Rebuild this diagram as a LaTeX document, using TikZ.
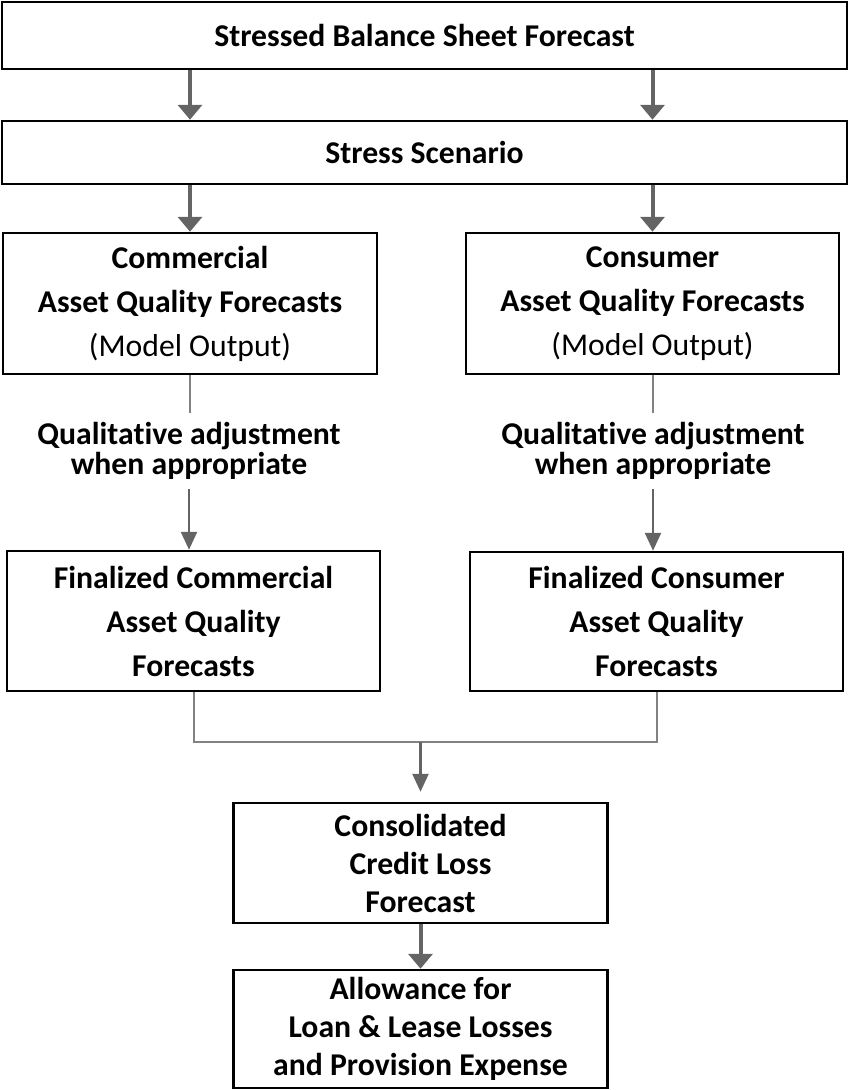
\documentclass[tikz,border=0pt]{standalone}
\usepackage{fontspec}
\setmainfont{Carlito}[Ligatures=NoCommon]
\usetikzlibrary{arrows.meta}
\definecolor{arrowgray}{RGB}{100,100,100}
\definecolor{linegray}{RGB}{130,130,130}
\tikzset{
	box/.style={draw=black, line width=2.5pt, fill=white, align=center, inner sep=0pt,
		font=\fontsize{31.7}{44}\selectfont\bfseries},
	tightbox/.style={box, font=\fontsize{31.7}{38}\selectfont\bfseries},
	qual/.style={align=center, inner xsep=0pt, inner ysep=9pt,
		font=\fontsize{31.7}{30}\selectfont\bfseries},
	bigarrow/.style={draw=arrowgray, line width=4pt, -{Triangle[width=24pt,length=15pt]}},
	smallarrow/.style={draw=arrowgray, line width=2.5pt, -{Triangle[width=16pt,length=18pt]}},
	thinline/.style={draw=linegray, line width=2pt}
}
\begin{document}
\begin{tikzpicture}[x=1pt, y=-1pt]
	\useasboundingbox (0,0) rectangle (849,1090);

	% top of the flow
	\node[box, minimum width=845pt, minimum height=67pt] (sheet) at (424.5,35.5) {Stressed Balance Sheet Forecast};
	\node[box, minimum width=845pt, minimum height=63pt] (scen) at (424.5,152.5) {Stress Scenario};

	% two branches
	\node[box, minimum width=374pt, minimum height=141pt] (comm) at (190,303.5)
		{Commercial\\Asset Quality Forecasts\\\mdseries (Model Output)};
	\node[box, minimum width=373pt, minimum height=141pt] (cons) at (652.5,303.5)
		{Consumer\\Asset Quality Forecasts\\\mdseries (Model Output)};

	\node[qual] (qualL) at (189,451) {Qualitative adjustment\\when appropriate};
	\node[qual] (qualR) at (653,451) {Qualitative adjustment\\when appropriate};

	\node[box, minimum width=373pt, minimum height=140pt] (fincomm) at (193.5,621)
		{Finalized Commercial\\Asset Quality\\Forecasts};
	\node[box, minimum width=373pt, minimum height=139pt] (fincons) at (656.5,621.5)
		{Finalized Consumer\\Asset Quality\\Forecasts};

	% bottom of the flow
	\node[tightbox, minimum width=374pt, minimum height=120pt] (consol) at (420.5,863)
		{Consolidated\\Credit Loss\\Forecast};
	\node[tightbox, minimum width=374pt, minimum height=118pt] (allow) at (420.5,1029)
		{Allowance for\\Loan \& Lease Losses\\and Provision Expense};

	\coordinate (merge) at (420.5,742);

	\foreach \n in {comm,cons} {
		\draw[bigarrow] (sheet.south -| \n) -- (scen.north -| \n);
		\draw[bigarrow] (scen.south -| \n) -- (\n.north);
	}
	\draw[thinline] (comm.south) -- (comm.south |- qualL.north);
	\draw[thinline] (cons.south) -- (cons.south |- qualR.north);
	\draw[smallarrow] (qualL.south) -- (qualL.south |- fincomm.north);
	\draw[smallarrow] (qualR.south) -- (qualR.south |- fincons.north);

	\draw[thinline] (fincomm.south) |- (merge) -| (fincons.south);
	\draw[smallarrow, shorten >=10pt] (merge) -- (consol.north);
	\draw[bigarrow] (consol.south) -- (allow.north);
\end{tikzpicture}
\end{document}
